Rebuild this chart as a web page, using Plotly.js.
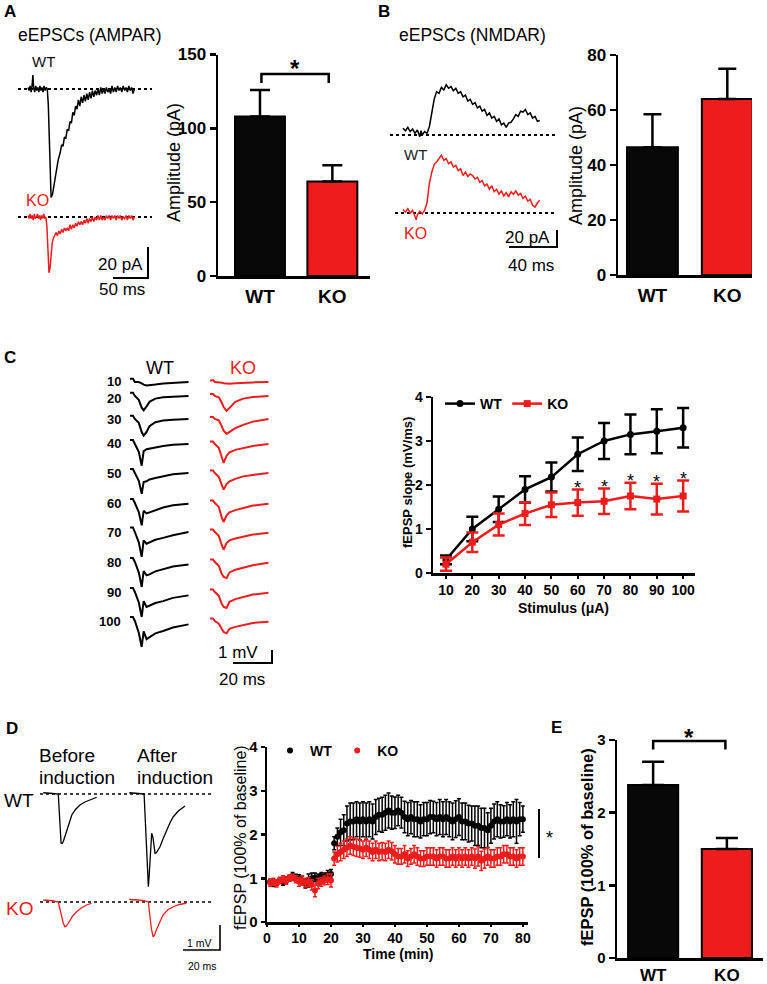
<!DOCTYPE html>
<html>
<head>
<meta charset="utf-8">
<script src="https://cdn.plot.ly/plotly-3.0.1.min.js"></script>
<style>
  html, body { margin: 0; padding: 0; background: #fff; }
  #fig { width: 767px; height: 984px; }
</style>
</head>
<body>
<div id="fig"></div>
<script>
// ---------------- data ----------------
const groups = ['WT', 'KO'];

// A: AMPAR eEPSC amplitude (pA)
const ampaMean = [108, 64];
const ampaSem = [18, 11];
// B: NMDAR eEPSC amplitude (pA)
const nmdaMean = [46.5, 64];
const nmdaSem = [12, 11];
// E: fEPSP 60 min after induction (x baseline)
const ltpBarMean = [2.38, 1.5];
const ltpBarSem = [0.32, 0.15];

// C: input-output curve
const stim = [10, 20, 30, 40, 50, 60, 70, 80, 90, 100];
const ioWT = [0.3, 1.0, 1.45, 1.9, 2.18, 2.7, 3.0, 3.15, 3.22, 3.3];
const ioWTsem = [0.1, 0.28, 0.29, 0.3, 0.33, 0.38, 0.41, 0.45, 0.5, 0.45];
const ioKO = [0.2, 0.7, 1.1, 1.35, 1.55, 1.6, 1.63, 1.75, 1.68, 1.75];
const ioKOsem = [0.15, 0.22, 0.25, 0.26, 0.28, 0.3, 0.29, 0.3, 0.35, 0.35];
const ioSig = [60, 70, 80, 90, 100];

// D: LTP time course (min, fEPSP x baseline)
const ltpTime = [1,2,3,4,5,6,7,8,9,10,11,12,13,14,15,16,17,18,19,20,
  21,22,23,24,25,26,27,28,29,30,31,32,33,34,35,36,37,38,39,40,
  41,42,43,44,45,46,47,48,49,50,51,52,53,54,55,56,57,58,59,60,
  61,62,63,64,65,66,67,68,69,70,71,72,73,74,75,76,77,78,79,80];
const ltpWT = [0.92,0.88,0.9,0.95,0.92,0.95,1.0,1.05,1.02,1.0,
  0.95,0.88,0.95,1.0,1.02,1.0,1.05,1.02,1.08,1.1,
  1.8,1.95,2.05,2.1,2.25,2.3,2.3,2.35,2.3,2.35,
  2.3,2.35,2.3,2.4,2.45,2.45,2.5,2.55,2.5,2.5,
  2.55,2.5,2.4,2.35,2.4,2.35,2.35,2.3,2.35,2.35,
  2.4,2.4,2.35,2.4,2.35,2.4,2.35,2.3,2.35,2.4,
  2.3,2.3,2.25,2.25,2.2,2.2,2.15,2.15,2.1,2.2,
  2.3,2.35,2.3,2.3,2.35,2.3,2.35,2.3,2.35,2.35];
const ltpWTsem = [0.06,0.07,0.06,0.07,0.08,0.08,0.07,0.08,0.07,0.08,
  0.1,0.1,0.15,0.12,0.1,0.1,0.08,0.1,0.1,0.1,
  0.15,0.2,0.3,0.35,0.4,0.42,0.42,0.4,0.42,0.4,
  0.42,0.4,0.4,0.4,0.38,0.4,0.4,0.4,0.38,0.36,
  0.35,0.35,0.36,0.38,0.38,0.4,0.4,0.38,0.38,0.38,
  0.38,0.36,0.38,0.4,0.4,0.4,0.4,0.42,0.42,0.42,
  0.42,0.42,0.42,0.4,0.45,0.45,0.45,0.45,0.4,0.4,
  0.4,0.4,0.38,0.36,0.38,0.38,0.4,0.5,0.38,0.3];
const ltpKO = [0.9,0.92,0.88,0.95,0.98,0.95,1.0,1.02,0.98,0.92,
  0.95,0.9,0.92,0.85,0.72,0.88,0.92,0.95,0.98,0.95,
  1.45,1.55,1.6,1.65,1.7,1.75,1.72,1.7,1.68,1.65,
  1.7,1.65,1.6,1.65,1.6,1.62,1.6,1.65,1.62,1.55,
  1.5,1.5,1.55,1.45,1.5,1.55,1.5,1.45,1.45,1.5,
  1.5,1.5,1.45,1.5,1.5,1.45,1.45,1.5,1.45,1.5,
  1.45,1.5,1.45,1.5,1.45,1.5,1.4,1.45,1.5,1.45,
  1.45,1.5,1.5,1.55,1.55,1.5,1.5,1.45,1.5,1.5];
const ltpKOsem = [0.08,0.08,0.08,0.07,0.08,0.08,0.07,0.07,0.08,0.1,
  0.1,0.1,0.1,0.12,0.14,0.12,0.1,0.1,0.12,0.15,
  0.15,0.18,0.2,0.2,0.2,0.2,0.2,0.2,0.2,0.2,
  0.2,0.2,0.2,0.2,0.2,0.2,0.2,0.2,0.2,0.2,
  0.18,0.18,0.2,0.18,0.18,0.2,0.2,0.18,0.18,0.2,
  0.2,0.2,0.2,0.2,0.2,0.2,0.2,0.2,0.2,0.2,
  0.2,0.2,0.2,0.2,0.22,0.22,0.22,0.22,0.2,0.2,
  0.2,0.2,0.2,0.2,0.2,0.2,0.2,0.2,0.2,0.2];

// example recordings, [ms, pA] or [ms, mV]
const ampaTraceWT = [[0,1],[1.5,-1],[3,2],[4.5,-2],[6,3],[7,9],[8,1],[9.5,-2],[11,2],[12.5,-1],
  [14,1],[15.5,-2],[17,2],[18.5,-1],[20,1],[21.5,-2],[23,2],[24.5,-1],[26,1],[27.5,0],
  [29,-10],[31,-50],[33,-70],[35,-68],[37,-62],[39,-57],[41,-51],[43,-46],
  [46,-41],[48,-36],[50,-37],[52,-31],[54,-32],[56,-26],[58,-27],[60,-21],[62,-22],[64,-15],
  [66,-17],[68,-11],[70,-13],[72,-7],[74,-11],[76,-5],[78,-9],[80,-4],[82,-8],[84,-3],
  [86,-7],[88,-2],[90,-6],[92,-1],[94,-5],[96,-1],[98,-4],[100,0],[102,-4],[104,1],
  [106,-3],[108,0],[110,-3],[112,1],[114,-2],[116,0],[118,-3],[120,2],[122,-2],[124,1],
  [126,-2],[128,2],[130,-1],[132,1],[134,-2],[136,2],[138,-1],[140,1],[142,-2],[144,2],
  [146,-1],[148,1],[150,-3],[152,0]];
const ampaTraceKO = [[0,1],[1.5,-1],[3,2],[4.5,-1],[6,1],[7.5,-2],[9,2],[10.5,-1],[12,0],[13.5,2],
  [15,-1],[16.5,1],[18,-2],[19.5,1],[21,-1],[22.5,2],[24,-1],[25.5,0],
  [27,-6],[28.5,-25],[30,-36],[31.5,-33],[33,-24],[34.5,-17],[36,-14],
  [38,-12],[40,-10],[42,-12],[44,-9],[46,-11],[48,-8],[50,-10],[52,-7],[54,-9],[56,-7],
  [58,-9],[60,-5],[62,-8],[64,-5],[66,-7],[68,-4],[70,-6],[72,-3],[74,-5],[76,-3],
  [78,-5],[80,-2],[82,-4],[84,-1],[86,-4],[88,-1],[90,-3],[92,0],[94,-3],[96,0],
  [98,-2],[100,1],[102,-2],[104,1],[106,-2],[108,0],[110,-2],[112,1],[114,-1],[116,1],
  [118,-2],[120,1],[122,-1],[124,1],[126,-2],[128,1],[130,-1],[132,1],[134,-2],[136,0],
  [138,-1],[140,1],[142,-2],[144,1],[146,-1],[148,1],[150,-2],[152,0]];
const nmdaTraceWT = [[0,8],[2,5],[4,9],[6,4],[8,7],[10,2],[12,6],[14,-2],[15,5],[16,0],[18,4],[20,2],
  [22,10],[24,25],[26,42],[28,51],[30,49],[32,56],[34,53],[36,59],[38,55],[40,57],[42,52],[44,55],
  [46,49],[48,51],[50,45],[52,47],[54,40],[56,42],[58,36],[60,38],[62,32],[64,34],[66,28],[68,30],
  [70,23],[72,26],[74,20],[76,22],[78,16],[80,19],[82,12],[84,14],[86,9],[88,14],[90,15],[92,19],
  [94,24],[96,22],[98,28],[100,27],[102,30],[104,24],[106,26],[108,20],[110,22],[112,16],[114,17]];
const nmdaTraceKO = [[0,4],[2,1],[4,5],[6,0],[8,3],[10,-3],[11,-8],[12,-2],[14,2],[16,-1],[18,3],
  [20,12],[21,22],[22,35],[24,48],[26,57],[28,60],[30,64],[32,68],[34,62],[36,64],[38,58],[40,60],
  [42,54],[44,56],[46,50],[48,52],[50,44],[52,48],[54,43],[56,46],[58,44],[60,40],[62,42],[64,36],
  [66,38],[68,32],[70,34],[72,28],[74,32],[76,25],[78,28],[80,22],[82,26],[84,20],[86,24],[88,19],
  [90,25],[92,22],[94,26],[96,21],[98,23],[100,17],[102,20],[104,14],[106,16],[108,9],[110,7],
  [112,12],[114,15]];

// C: fEPSP traces at each stimulus, mV at shared times (ms)
const ioTraceTime = [0, 1.5, 2.5, 4.5, 6, 7, 8.5, 10, 13, 17, 22, 30];
const ioTracesWT = [
  [0.25,0.25,0,0,-0.1,-0.2,-0.26,-0.25,-0.2,-0.12,-0.06,0],
  [0.25,0.25,0,-0.3,-0.9,-1.1,-0.8,-0.45,-0.2,-0.1,-0.05,0],
  [0.25,0.25,0,-0.3,-1.0,-1.28,-1.0,-0.55,-0.25,-0.12,-0.05,0],
  [0.3,0.3,0,-0.6,-1.67,-0.55,-0.4,-0.35,-0.26,-0.15,-0.05,0],
  [0.3,0.3,0,-0.6,-1.6,-0.7,-0.64,-0.5,-0.38,-0.25,-0.1,0],
  [0.3,0.3,0,-0.7,-1.72,-0.6,-0.8,-0.72,-0.56,-0.35,-0.18,-0.05],
  [0.35,0.35,0,-0.8,-1.92,-0.64,-0.9,-0.8,-0.6,-0.45,-0.25,0],
  [0.3,0.3,0,-0.8,-1.92,-0.7,-1.03,-0.95,-0.72,-0.55,-0.35,-0.2],
  [0.3,0.3,0,-0.8,-1.92,-0.7,-1.15,-1.05,-0.85,-0.7,-0.45,-0.26],
  [0.3,0.3,0,-0.9,-2.0,-0.8,-1.4,-1.25,-0.95,-0.77,-0.5,-0.26]];
const ioTracesKO = [
  [0.1,0.15,0,0,-0.05,-0.1,-0.12,-0.13,-0.1,-0.06,-0.03,0],
  [0.15,0.15,0,-0.1,-0.5,-0.85,-1.15,-0.9,-0.45,-0.2,-0.08,0],
  [0.15,0.15,0,-0.1,-0.55,-0.9,-1.15,-1.0,-0.7,-0.45,-0.2,0],
  [0.2,0.2,0,-0.3,-1.0,-1.46,-0.9,-0.64,-0.45,-0.3,-0.15,0],
  [0.2,0.2,0,-0.3,-0.9,-1.28,-0.85,-0.64,-0.45,-0.26,-0.15,0],
  [0.2,0.2,0,-0.3,-1.1,-1.46,-0.95,-0.72,-0.55,-0.4,-0.2,-0.05],
  [0.2,0.2,0,-0.3,-1.0,-1.36,-0.85,-0.64,-0.5,-0.38,-0.2,-0.05],
  [0.2,0.2,0,-0.3,-0.9,-1.15,-1.23,-0.8,-0.6,-0.42,-0.25,-0.05],
  [0.2,0.2,0,-0.3,-0.9,-1.15,-1.23,-0.75,-0.55,-0.38,-0.2,-0.05],
  [0.2,0.2,0,-0.2,-0.6,-0.85,-0.95,-0.6,-0.45,-0.3,-0.15,-0.05]];

// D: fEPSP before / after induction (ms, mV)
const ltpTraceWTpre = [[-2,0.05],[0,0.05],[3,0.02],[6.1,0],[7.0,-1.2],[7.6,-1.96],[8.2,-1.98],[8.8,-1.9],
  [9.6,-1.72],[10.6,-1.5],[11.8,-1.18],[13.4,-0.84],[15.4,-0.62],[17.8,-0.44],[20.5,-0.32],[23.5,-0.22],[26.9,-0.13]];
const ltpTraceWTpost = [[-2,0.05],[0,0.05],[3,0.02],[6,0],[7.4,-2.0],[8.0,-3.3],[8.3,-3.71],[8.8,-3.2],
  [9.5,-2.2],[10.1,-1.57],[10.8,-1.75],[11.4,-2.15],[11.9,-2.37],[12.6,-2.35],[13.5,-2.25],[14.6,-2.11],
  [16.2,-1.8],[18.2,-1.44],[20,-1.15],[21.8,-0.91],[24.5,-0.68],[28.1,-0.48]];
const ltpTraceKOpre = [[-2,0.08],[0,0.08],[3,0.05],[6.1,0],[7.0,-0.3],[7.9,-0.6],[8.8,-0.85],[9.7,-0.99],
  [10.6,-0.95],[11.5,-0.85],[12.4,-0.72],[14,-0.55],[16,-0.39],[18.5,-0.24],[21.4,-0.12],[24.1,-0.05]];
const ltpTraceKOpost = [[-2,0.1],[0,0.1],[3,0.08],[6,0.05],[8.3,0],[9.2,-0.6],[10,-1.1],[10.9,-1.39],
  [11.8,-1.3],[12.6,-1.12],[14.4,-0.8],[16.2,-0.52],[19,-0.3],[21.8,-0.19],[25,-0.1],[28.8,-0.05]];

// ---------------- layout helpers ----------------
const W = 767, H = 984;
const fx = px => px / W;
const fy = py => 1 - py / H;
const RED = '#ee1c1c';
const FONT = 'Arial, "Liberation Sans", Helvetica, sans-serif';

const data = [];
const layout = {
  width: W, height: H,
  margin: {l: 0, r: 0, t: 0, b: 0},
  paper_bgcolor: '#fff', plot_bgcolor: 'rgba(0,0,0,0)',
  font: {family: FONT, color: '#000'},
  showlegend: true,
  annotations: [], shapes: []
};

let nAx = 0;
function addAxes(xa, ya) {
  nAx++;
  const k = nAx === 1 ? '' : String(nAx);
  layout['xaxis' + k] = Object.assign({anchor: 'y' + k, fixedrange: true}, xa);
  layout['yaxis' + k] = Object.assign({anchor: 'x' + k, fixedrange: true}, ya);
  return {xaxis: 'x' + k, yaxis: 'y' + k};
}

// invisible axes for a recording: box [l, r, t, b] px, origin px, px per unit
function recAxes(box, x0, y0, sx, sy) {
  const [l, r, t, b] = box;
  return addAxes(
    {visible: false, domain: [fx(l), fx(r)], range: [(l - x0) / sx, (r - x0) / sx]},
    {visible: false, domain: [fy(b), fy(t)], range: [(y0 - b) / sy, (y0 - t) / sy]}
  );
}

function recording(ax, t, v, color, width) {
  data.push(Object.assign({
    type: 'scatter', mode: 'lines', x: t, y: v, showlegend: false, hoverinfo: 'skip',
    line: {color: color, width: width || 1.5}
  }, ax));
}

function dotted(ax, pxL, pxR, w) {
  layout.shapes.push({type: 'line', layer: 'below', xref: 'paper', yref: ax.yaxis,
    x0: fx(pxL), x1: fx(pxR), y0: 0, y1: 0, line: {color: '#000', width: w || 2, dash: 'dot'}});
}

function scaleBar(cx, cy, lenX, lenY, w) {
  layout.shapes.push({type: 'path', xref: 'paper', yref: 'paper',
    path: `M${fx(cx - lenX)},${fy(cy)} L${fx(cx)},${fy(cy)} L${fx(cx)},${fy(cy - lenY)}`,
    line: {color: '#000', width: w || 2}});
}

function txt(text, px, py, o) {
  o = o || {};
  layout.annotations.push({
    xref: 'paper', yref: 'paper', x: fx(px), y: fy(py), text: text, showarrow: false,
    xanchor: o.xa || 'center', yanchor: 'middle', textangle: o.angle || 0,
    font: {family: FONT, size: o.size || 14, color: o.color || '#000', weight: o.bold ? 'bold' : 'normal'}
  });
}

const axisLine = {showline: true, linewidth: 2.5, linecolor: '#000', showgrid: false, zeroline: false};

// bar panel: plot box px, y range; returns a px mapper for brackets
function barPanel(bx, by, yr, dtick, means, sems, o) {
  const ax = addAxes(
    Object.assign({domain: [fx(bx[0]), fx(bx[1])], range: o.xr, tickvals: [0, 1], ticktext: groups,
      ticks: '', ticklabelstandoff: o.xst || 0,
      tickfont: {family: FONT, size: o.xfs, weight: 'bold'}}, axisLine),
    Object.assign({domain: [fy(by[1]), fy(by[0])], range: yr, dtick: dtick,
      ticks: 'outside', ticklen: 6, tickwidth: 2.5, tickcolor: '#000',
      tickfont: {family: FONT, size: o.yfs, weight: 'bold'}}, axisLine)
  );
  data.push(Object.assign({
    type: 'bar', x: [0, 1], y: means, width: o.bw, hoverinfo: 'skip', showlegend: false,
    marker: {color: ['#080808', RED], line: {color: '#000', width: 2}},
    error_y: {type: 'data', symmetric: false, array: sems, arrayminus: [0, 0],
      color: '#000', thickness: 2.5, width: o.cap}
  }, ax));
  const sx = (bx[1] - bx[0]) / (o.xr[1] - o.xr[0]);
  const sy = (by[1] - by[0]) / (yr[1] - yr[0]);
  return {
    px: v => bx[0] + (v - o.xr[0]) * sx,
    py: v => by[1] - (v - yr[0]) * sy
  };
}

function bracket(m, x0, x1, yTop, yFoot, starY) {
  layout.shapes.push({type: 'path', xref: 'paper', yref: 'paper',
    path: `M${fx(m.px(x0))},${fy(m.py(yFoot))} L${fx(m.px(x0))},${fy(m.py(yTop))} ` +
          `L${fx(m.px(x1))},${fy(m.py(yTop))} L${fx(m.px(x1))},${fy(m.py(yFoot))}`,
    line: {color: '#000', width: 2.5}});
  txt('*', m.px((x0 + x1) / 2), m.py(starY), {size: 24, bold: true});
}

const X = p => p.map(d => d[0]);
const Y = p => p.map(d => d[1]);

// ---------------- panel labels ----------------
txt('A', 10, 11, {size: 17, bold: true});
txt('B', 384, 11, {size: 17, bold: true});
txt('C', 10, 357, {size: 17, bold: true});
txt('D', 12, 728, {size: 17, bold: true});
txt('E', 556, 727, {size: 17, bold: true});

// ---------------- A ----------------
txt('eEPSCs (AMPAR)', 16, 35, {xa: 'left', size: 17.5});
txt('WT', 30, 62, {xa: 'left', size: 15, color: '#111'});
txt('KO', 24, 200, {xa: 'left', size: 16, color: RED});
{
  const wt = recAxes([22, 145, 55, 205], 28, 89, 0.7, 1.55);
  dotted(wt, 18, 152);
  recording(wt, X(ampaTraceWT), Y(ampaTraceWT), '#000', 1.5);
  const ko = recAxes([22, 145, 205, 285], 28, 217, 0.7, 1.55);
  dotted(ko, 18, 152);
  recording(ko, X(ampaTraceKO), Y(ampaTraceKO), RED, 1.5);
  scaleBar(148, 278, 50 * 0.7, 20 * 1.55, 2);
  txt('20 pA', 145, 264, {xa: 'right', size: 17});
  txt('50 ms', 122, 290, {size: 17});
}
{
  const m = barPanel([218, 370], [54.5, 276], [0, 150], 50, ampaMean, ampaSem,
    {xr: [-0.58, 1.52], bw: 0.69, cap: 10, xfs: 19, yfs: 17, xst: 2});
  bracket(m, 0.02, 0.95, 136.8, 130.7, 140.5);
  txt('Amplitude (pA)', 174, 163, {angle: -90, size: 18});
}

// ---------------- B ----------------
txt('eEPSCs (NMDAR)', 397, 35, {xa: 'left', size: 17.5});
txt('WT', 402, 155, {xa: 'left', size: 15, color: '#222'});
txt('KO', 402, 233, {xa: 'left', size: 16, color: RED});
{
  const wt = recAxes([396, 548, 70, 150], 403, 135, 1.2, 0.85);
  dotted(wt, 390, 555);
  recording(wt, X(nmdaTraceWT), Y(nmdaTraceWT), '#000', 1.5);
  const ko = recAxes([396, 548, 145, 228], 403, 213, 1.2, 0.85);
  dotted(ko, 395, 555);
  recording(ko, X(nmdaTraceKO), Y(nmdaTraceKO), RED, 1.5);
  scaleBar(557, 247, 40 * 1.2, 20 * 0.85, 2);
  txt('20 pA', 552, 237, {xa: 'right', size: 17});
  txt('40 ms', 531, 266, {size: 17});
}
{
  barPanel([618, 752], [55, 275], [0, 80], 20, nmdaMean, nmdaSem,
    {xr: [-0.46, 1.33], bw: 0.68, cap: 9, xfs: 19, yfs: 17, xst: 2});
  txt('Amplitude (pA)', 576, 166, {angle: -90, size: 18});
}

// ---------------- C traces ----------------
const ioRowPx = [382, 396, 419, 444, 473, 503, 532, 562, 592, 621];
const ioLabelPx = [381, 398, 419, 444, 473, 503, 532, 562, 592, 621];
txt('WT', 160, 368, {size: 18});
txt('KO', 243, 368, {size: 18, color: RED});
stim.forEach((s, i) => {
  const y0 = ioRowPx[i];
  txt(String(s), 123, ioLabelPx[i], {xa: 'right', size: 13, bold: true});
  const wt = recAxes([127, 192, y0 - 12, y0 + 32], 130, y0, 1.95, 13);
  recording(wt, ioTraceTime, ioTracesWT[i], '#000', 2);
  const ko = recAxes([207, 273, y0 - 12, y0 + 32], 210, y0, 1.95, 13);
  recording(ko, ioTraceTime, ioTracesKO[i], RED, 2);
});
scaleBar(272, 663, 20 * 1.95, 1 * 13, 2);
txt('1 mV', 238, 652, {size: 17});
txt('20 ms', 242, 679, {size: 17});

// ---------------- C input-output ----------------
{
  const ax = addAxes(
    Object.assign({domain: [fx(433), fx(695)], range: [5.07, 104.5], tickvals: stim,
      ticks: 'outside', ticklen: 3, tickwidth: 2, tickcolor: '#000',
      tickfont: {family: FONT, size: 14, weight: 'bold'}}, axisLine),
    Object.assign({domain: [fy(573), fy(397)], range: [0, 4], dtick: 1,
      ticks: 'outside', ticklen: 5, tickwidth: 2.5, tickcolor: '#000',
      tickfont: {family: FONT, size: 14, weight: 'bold'}}, axisLine)
  );
  data.push(Object.assign({type: 'scatter', mode: 'lines+markers', name: 'WT', x: stim, y: ioWT,
    line: {color: '#000', width: 2.5}, marker: {color: '#000', size: 7, symbol: 'circle'},
    error_y: {type: 'data', array: ioWTsem, color: '#000', thickness: 2.5, width: 6},
    cliponaxis: false, hoverinfo: 'skip', legend: 'legend'}, ax));
  data.push(Object.assign({type: 'scatter', mode: 'lines+markers', name: 'KO', x: stim, y: ioKO,
    line: {color: RED, width: 2.5}, marker: {color: RED, size: 7, symbol: 'square'},
    error_y: {type: 'data', array: ioKOsem, color: RED, thickness: 2.5, width: 6},
    cliponaxis: false, hoverinfo: 'skip', legend: 'legend'}, ax));
  ioSig.forEach(s => {
    const i = stim.indexOf(s);
    layout.annotations.push({xref: ax.xaxis, yref: ax.yaxis, x: s, y: ioKO[i] + ioKOsem[i] + 0.04,
      text: '*', showarrow: false, yanchor: 'middle',
      font: {family: FONT, size: 18}});
  });
  txt('fEPSP slope (mV/ms)', 407, 483, {angle: -90, size: 13, bold: true});
  txt('Stimulus (μA)', 563, 608, {size: 14, bold: true});
}
layout.legend = {x: fx(440), y: fy(404), xanchor: 'left', yanchor: 'middle', orientation: 'h',
  bgcolor: 'rgba(0,0,0,0)', font: {family: FONT, size: 14, weight: 'bold'}, itemwidth: 30, tracegroupgap: 0};

// ---------------- D traces ----------------
txt('Before', 37, 755, {xa: 'left', size: 19});
txt('induction', 37, 777, {xa: 'left', size: 19});
txt('After', 135, 755, {xa: 'left', size: 19});
txt('induction', 135, 777, {xa: 'left', size: 19});
txt('WT', 2, 800, {xa: 'left', size: 19});
txt('KO', 4, 908, {xa: 'left', size: 19, color: RED});
{
  const sx = 1.85, sy = 25;
  const wtPre = recAxes([40, 112, 785, 895], 47, 794, sx, sy);
  const wtPost = recAxes([124, 200, 785, 895], 133, 794, sx, sy);
  const koPre = recAxes([40, 112, 893, 945], 47, 902, sx, sy);
  const koPost = recAxes([124, 200, 893, 945], 133, 902, sx, sy);
  dotted(wtPre, 40, 212, 1.6);
  dotted(koPre, 40, 212, 1.6);
  recording(wtPre, X(ltpTraceWTpre), Y(ltpTraceWTpre), '#000', 1.3);
  recording(wtPost, X(ltpTraceWTpost), Y(ltpTraceWTpost), '#000', 1.3);
  recording(koPre, X(ltpTraceKOpre), Y(ltpTraceKOpre), RED, 1.3);
  recording(koPost, X(ltpTraceKOpost), Y(ltpTraceKOpost), RED, 1.3);
  scaleBar(220, 950, 20 * sx, 1 * sy, 1.6);
  txt('1 mV', 199, 943, {size: 10.5});
  txt('20 ms', 202, 966, {size: 10.5});
}

// ---------------- D time course ----------------
{
  const ax = addAxes(
    Object.assign({domain: [fx(267), fx(528)], range: [0, 81.6], dtick: 10,
      ticks: 'outside', ticklen: 2, tickwidth: 2, tickcolor: '#000',
      tickfont: {family: FONT, size: 14, weight: 'bold'}}, axisLine),
    Object.assign({domain: [fy(922), fy(747)], range: [0, 4], dtick: 1,
      ticks: 'outside', ticklen: 4, tickwidth: 2.5, tickcolor: '#000',
      tickfont: {family: FONT, size: 15, weight: 'bold'}}, axisLine)
  );
  data.push(Object.assign({type: 'scatter', mode: 'markers', name: 'WT', x: ltpTime, y: ltpWT,
    marker: {color: '#000', size: 6},
    error_y: {type: 'data', array: ltpWTsem, color: '#000', thickness: 1.5, width: 2},
    cliponaxis: false, hoverinfo: 'skip', legend: 'legend2'}, ax));
  data.push(Object.assign({type: 'scatter', mode: 'markers', name: 'KO', x: ltpTime, y: ltpKO,
    marker: {color: RED, size: 6},
    error_y: {type: 'data', array: ltpKOsem, color: RED, thickness: 1.5, width: 2},
    cliponaxis: false, hoverinfo: 'skip', legend: 'legend2'}, ax));
  layout.shapes.push({type: 'line', xref: 'paper', yref: 'paper', x0: fx(539), x1: fx(539),
    y0: fy(809), y1: fy(858), line: {color: '#000', width: 2}});
  txt('*', 549, 838, {size: 18});
  txt('fEPSP (100% of baseline)', 240, 838, {angle: -90, size: 16});
  txt('Time (min)', 398, 954, {size: 14, bold: true});
}
layout.legend2 = {x: fx(270), y: fy(751), xanchor: 'left', yanchor: 'middle', orientation: 'h',
  bgcolor: 'rgba(0,0,0,0)', font: {family: FONT, size: 14, weight: 'bold'}, itemwidth: 30, tracegroupgap: 0};

// ---------------- E ----------------
{
  const m = barPanel([617, 763], [740, 958], [0, 3], 1, ltpBarMean, ltpBarSem,
    {xr: [-0.49, 1.49], bw: 0.68, cap: 11, xfs: 17, yfs: 15, xst: 0});
  bracket(m, 0, 0.98, 2.985, 2.87, 3.04);
  txt('fEPSP (100% of baseline)', 587, 847, {angle: -90, size: 16.5, bold: true});
}

Plotly.newPlot('fig', data, layout, {staticPlot: true, displayModeBar: false});
</script>
</body>
</html>
